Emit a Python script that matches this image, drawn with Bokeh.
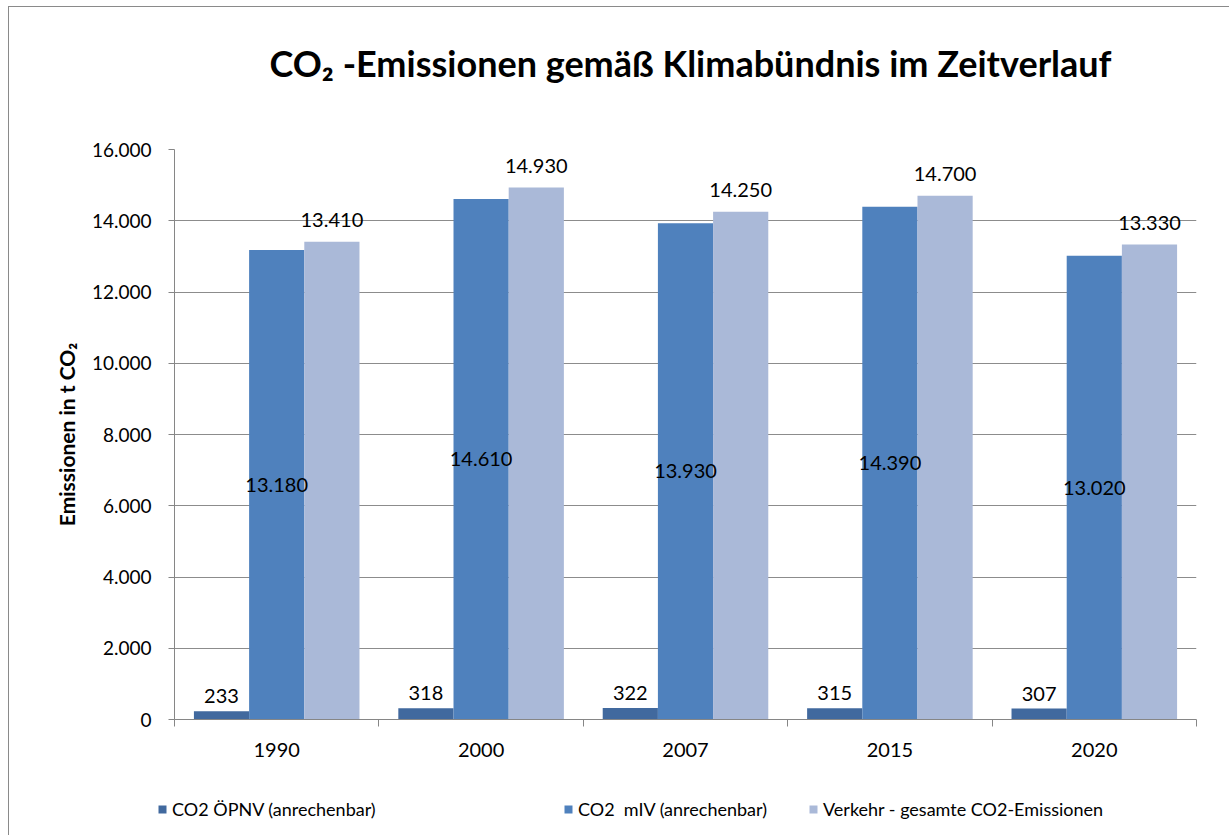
from bokeh.plotting import figure
from bokeh.models import (ColumnDataSource, Range1d, FixedTicker,
                          Legend, LegendItem, LabelSet, Label)
from bokeh.transform import dodge
from bokeh.core.properties import value
from bokeh.embed import file_html
from bokeh.resources import INLINE

# ---- data ----
years = ["1990", "2000", "2007", "2015", "2020"]
oepnv = [233, 318, 322, 315, 307]
miv = [13180, 14610, 13930, 14390, 13020]
total = [13410, 14930, 14250, 14700, 13330]
series_names = ["CO2 ÖPNV (anrechenbar)", "CO2  mIV (anrechenbar)", "Verkehr - gesamte CO2-Emissionen"]
y_ticks = [0, 2000, 4000, 6000, 8000, 10000, 12000, 14000, 16000]
title_text = "CO\u2082 -Emissionen gemäß Klimabündnis im Zeitverlauf"
y_label = "Emissionen in t CO\u2082"

colors = ["#41699E", "#4F81BD", "#AAB9D8"]
FONT = "Lato"
EDGE = "1px solid #8a8a8a"


def de(n):
    return f"{n:,}".replace(",", ".")


pos = list(range(len(years)))  # category slots
src = ColumnDataSource(dict(
    pos=pos, year=years,
    oepnv=oepnv, miv=miv, total=total,
    miv_mid=[v / 2 for v in miv],
    oepnv_lbl=[de(v) for v in oepnv],
    miv_lbl=[de(v) for v in miv],
    total_lbl=[de(v) for v in total],
))


def strip(height, styles):
    f = figure(x_range=Range1d(-100, -99), y_range=Range1d(0, 1),
               width=1221, height=height, output_backend="svg", toolbar_location=None,
               x_axis_location=None, y_axis_location=None,
               min_border=0, min_border_left=0, min_border_right=0,
               min_border_top=0, min_border_bottom=0)
    f.outline_line_color = None
    f.grid.visible = False
    f.styles = styles
    return f


# ---- title strip ----
tp = strip(100, {"margin-left": "8px", "margin-top": "6px",
                 "border-left": EDGE, "border-top": EDGE})
tp.add_layout(Label(x=681, y=45, x_units="screen", y_units="screen", text=title_text,
                    text_align="center", text_baseline="alphabetic",
                    text_font=FONT, text_font_size="36px", text_font_style="bold",
                    text_color="black"))

# ---- main chart ----
p = figure(x_range=Range1d(-0.5, len(years) - 0.5),
           y_range=Range1d(0, 16000),
           width=1221, height=683,
           output_backend="svg", toolbar_location=None,
           min_border_left=165, min_border_right=34,
           min_border_top=43, min_border_bottom=70)
p.outline_line_color = None
p.background_fill_color = "white"
p.border_fill_color = "white"
p.styles = {"margin-left": "8px", "border-left": EDGE}

# y axis
yt = FixedTicker(ticks=y_ticks)
ya = p.yaxis[0]
ya.ticker = yt
ya.major_label_overrides = {t: de(t) for t in y_ticks}
ya.major_label_text_font = FONT
ya.major_label_text_font_size = "19px"
ya.major_label_text_color = "black"
ya.major_label_standoff = 17
ya.axis_line_color = "#868686"
ya.major_tick_line_color = "#868686"
ya.major_tick_out = 6
ya.major_tick_in = 0
ya.minor_tick_line_color = None
ya.axis_label = y_label
ya.axis_label_text_font = FONT
ya.axis_label_text_font_size = "21px"
ya.axis_label_text_font_style = "bold"
ya.axis_label_text_color = "black"
ya.axis_label_standoff = 10

p.ygrid.ticker = yt
p.ygrid.grid_line_color = "#8c8c8c"
p.xgrid.grid_line_color = None

# x axis: category labels at centres, tick marks at category boundaries
xa = p.xaxis[0]
xa.ticker = FixedTicker(ticks=pos, minor_ticks=[i - 0.5 for i in range(len(years) + 1)])
xa.major_label_overrides = {i: y for i, y in zip(pos, years)}
xa.major_tick_line_color = None
xa.minor_tick_line_color = "#868686"
xa.minor_tick_out = 7
xa.minor_tick_in = 0
xa.axis_line_color = "#868686"
xa.major_label_text_font = FONT
xa.major_label_text_font_size = "20px"
xa.major_label_text_color = "black"
xa.major_label_standoff = 16

# bars
bw = 0.27
r1 = p.vbar(x=dodge("pos", -bw), top="oepnv", width=bw, source=src,
            fill_color=colors[0], line_color=None)
r2 = p.vbar(x="pos", top="miv", width=bw, source=src,
            fill_color=colors[1], line_color=None)
r3 = p.vbar(x=dodge("pos", bw), top="total", width=bw, source=src,
            fill_color=colors[2], line_color=None)

# data labels
lab_kw = dict(source=src, text_font=value(FONT), text_font_size="20px",
              text_color="black", text_align="center")
p.add_layout(LabelSet(x=dodge("pos", -bw), y="oepnv", text="oepnv_lbl",
                      text_baseline="bottom", y_offset=8, **lab_kw))
p.add_layout(LabelSet(x="pos", y="miv_mid", text="miv_lbl",
                      text_baseline="middle", **lab_kw))
p.add_layout(LabelSet(x=dodge("pos", bw), y="total", text="total_lbl",
                      text_baseline="bottom", y_offset=15, **lab_kw))

# ---- legend strip below the chart (three entries with uneven spacing) ----
lp = strip(46, {"margin-left": "8px", "border-left": EDGE})
lr = [lp.vbar(x="pos", top=col, width=bw, source=src, fill_color=c, line_color=None)
      for col, c in zip(["oepnv", "miv", "total"], colors)]

legend_x = [148, 554, 799]
for name, r, lx in zip(series_names, lr, legend_x):
    lg = Legend(items=[LegendItem(label=name, renderers=[r])],
                location=(lx, 15), orientation="horizontal",
                label_text_font=FONT, label_text_font_size="18px", label_text_color="black",
                glyph_width=10, glyph_height=10, label_standoff=5,
                padding=0, margin=0, border_line_color=None, background_fill_alpha=0)
    lp.add_layout(lg, "center")

open("out.html", "w").write(file_html([tp, p, lp], INLINE))
